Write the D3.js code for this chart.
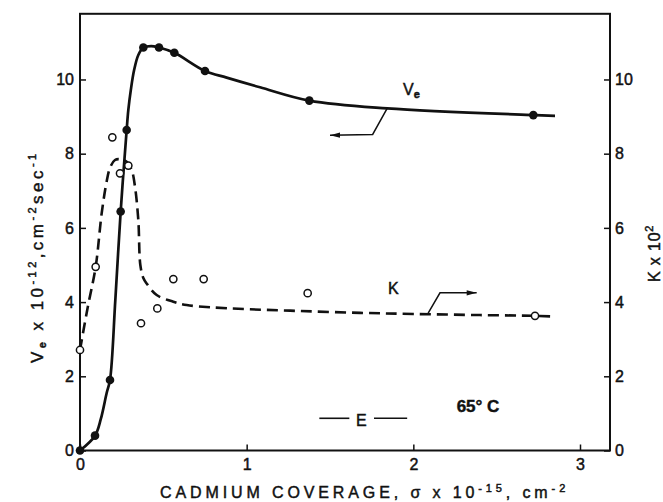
<!DOCTYPE html>
<html>
<head>
<meta charset="utf-8">
<script src="https://cdn.jsdelivr.net/npm/d3@7"></script>
<style>
  html, body { margin: 0; padding: 0; background: #fff; }
  svg { display: block; font-family: "Liberation Sans", Arial, Helvetica, sans-serif; }
  text { stroke: #111; stroke-width: 0.45px; }
</style>
</head>
<body>
<svg id="chart" width="663" height="502"></svg>
<script>
// Measured electron-emission rate V_e (x 10^-12 cm^-2 sec^-1) vs cadmium coverage (x 10^15 cm^-2)
const veCoverage = [0, 0.09, 0.18, 0.244, 0.28, 0.38, 0.474, 0.566, 0.75, 1.376, 2.72];
const veRate     = [0, 0.40, 1.90, 6.44, 8.64, 10.86, 10.86, 10.72, 10.23, 9.43, 9.04];

// Measured K (x 10^2) vs cadmium coverage
const kCoverage = [0, 0.094, 0.194, 0.24, 0.29, 0.366, 0.464, 0.56, 0.742, 1.366, 2.73];
const kValue    = [2.71, 4.95, 8.44, 7.47, 7.68, 3.43, 3.83, 4.62, 4.62, 4.24, 3.63];

// Smooth curve drawn through V_e
const veCurveX = [0, 0.09, 0.125, 0.16, 0.18, 0.212, 0.244, 0.28, 0.29, 0.305, 0.325, 0.35, 0.38, 0.427, 0.474, 0.566, 0.75, 0.88, 1.08, 1.376, 1.843, 2.72, 2.85];
const veCurveY = [0, 0.40, 0.85, 1.55, 1.90, 4.06, 6.44, 8.64, 9.18, 9.72, 10.26, 10.66, 10.86, 10.9, 10.86, 10.72, 10.23, 10.05, 9.79, 9.43, 9.22, 9.04, 9.02];

// Smooth (dashed) curve drawn through K
const kCurveX = [0, 0.045, 0.094, 0.13, 0.16, 0.18, 0.21, 0.24, 0.28, 0.31, 0.33, 0.35, 0.362, 0.38, 0.40, 0.46, 0.56, 0.64, 0.78, 1.0, 1.32, 1.68, 2.0, 2.4, 2.72, 2.84];
const kCurveY = [2.71, 3.83, 4.95, 6.39, 7.25, 7.62, 7.83, 7.85, 7.78, 7.56, 7.11, 6.2, 5.0, 4.65, 4.5, 4.19, 4.01, 3.92, 3.86, 3.81, 3.76, 3.71, 3.68, 3.65, 3.63, 3.61];

const xTicks = [0, 1, 2, 3];
const yTicks = [0, 2, 4, 6, 8, 10];
const kTicks = [0, 2, 4, 6, 8, 10];

const svg = d3.select("#chart");

const x = d3.scaleLinear().domain([0, 3.18]).range([80, 610]);
const y = d3.scaleLinear().domain([0, 11.77]).range([450.5, 13.8]);
const yK = d3.scaleLinear().domain([0, 11.77]).range([450.5, 13.8]);

const ink = "#111";

// plot frame
svg.append("rect")
  .attr("x", x(0)).attr("y", y(11.77))
  .attr("width", x(3.18) - x(0)).attr("height", y(0) - y(11.77))
  .attr("fill", "none").attr("stroke", ink).attr("stroke-width", 2);

function styleAxis(g) {
  g.select(".domain").remove();
  g.selectAll(".tick line").attr("stroke", ink).attr("stroke-width", 1.5);
  g.selectAll(".tick text")
    .attr("fill", ink)
    .style("font-size", "16px");
}

// bottom axis (ticks point inward)
svg.append("g")
  .attr("transform", `translate(0,${y(0)})`)
  .call(d3.axisBottom(x).tickValues(xTicks).tickSize(-6).tickFormat(d3.format("d")))
  .call(styleAxis)
  .call(g => g.selectAll(".tick text").attr("y", 19).attr("dy", null));

// left axis
svg.append("g")
  .attr("transform", `translate(${x(0)},0)`)
  .call(d3.axisLeft(y).tickValues(yTicks).tickSize(-6).tickPadding(6).tickFormat(d3.format("d")))
  .call(styleAxis)
  .call(g => g.selectAll(".tick text").attr("x", -6));

// right axis (K)
svg.append("g")
  .attr("transform", `translate(${x(3.18)},0)`)
  .call(d3.axisRight(yK).tickValues(kTicks).tickSize(-6).tickPadding(6).tickFormat(d3.format("d")))
  .call(styleAxis)
  .call(g => g.selectAll(".tick text").attr("x", 5));

// curves
const kLine = d3.line().x(d => x(d[0])).y(d => yK(d[1])).curve(d3.curveCatmullRom.alpha(0.5));
const veLine = d3.line().x(d => x(d[0])).y(d => y(d[1])).curve(d3.curveCatmullRom.alpha(0.5));

svg.append("path")
  .datum(d3.zip(kCurveX, kCurveY))
  .attr("d", kLine)
  .attr("fill", "none").attr("stroke", ink)
  .attr("stroke-width", 2.6).attr("stroke-dasharray", "11,6");

svg.append("path")
  .datum(d3.zip(veCurveX, veCurveY))
  .attr("d", veLine)
  .attr("fill", "none").attr("stroke", ink)
  .attr("stroke-width", 2.7);

// K points (open)
svg.append("g").selectAll("circle")
  .data(d3.zip(kCoverage, kValue))
  .join("circle")
  .attr("cx", d => x(d[0])).attr("cy", d => yK(d[1]))
  .attr("r", 3.6).attr("fill", "#fff").attr("stroke", ink).attr("stroke-width", 1.5);

// V_e points (filled)
svg.append("g").selectAll("circle")
  .data(d3.zip(veCoverage, veRate))
  .join("circle")
  .attr("cx", d => x(d[0])).attr("cy", d => y(d[1]))
  .attr("r", 4.3).attr("fill", ink);

// leader arrows pointing each curve to its axis
function arrowPath(pts, yScale) {
  return d3.line().x(d => x(d[0])).y(d => yScale(d[1]))(pts);
}
function arrowHead(tip, dir, yScale) {
  const tx = x(tip[0]), ty = yScale(tip[1]);
  const L = 10, W = 2.6;
  return `M${tx},${ty}L${tx - dir * L},${ty - W}L${tx - dir * L},${ty + W}Z`;
}
const veArrow = [[1.843, 9.22], [1.756, 8.52], [1.50, 8.50]];
const kArrow = [[2.089, 3.70], [2.16, 4.25], [2.38, 4.25]];

svg.append("path").attr("d", arrowPath(veArrow, y))
  .attr("fill", "none").attr("stroke", ink).attr("stroke-width", 1.5);
svg.append("path").attr("d", arrowHead(veArrow[2], -1, y)).attr("fill", ink);
svg.append("path").attr("d", arrowPath(kArrow, yK))
  .attr("fill", "none").attr("stroke", ink).attr("stroke-width", 1.5);
svg.append("path").attr("d", arrowHead(kArrow[2], 1, yK)).attr("fill", ink);

// curve labels
const veLabel = svg.append("text")
  .attr("x", x(1.938)).attr("y", y(9.58))
  .attr("fill", ink).style("font-size", "16px");
veLabel.append("tspan").text("V");
veLabel.append("tspan").attr("dy", 3).style("font-size", "11px").style("font-weight", "bold").text("e");

svg.append("text")
  .attr("x", x(1.848)).attr("y", yK(4.22))
  .attr("fill", ink).style("font-size", "16px").text("K");

svg.append("text")
  .attr("x", x(2.26)).attr("y", y(1.05))
  .attr("fill", ink).style("font-size", "17px").style("font-weight", "bold").text("65° C");

// energy marker
const eLevel = 0.868;
svg.append("line")
  .attr("x1", x(1.436)).attr("x2", x(1.616)).attr("y1", y(eLevel)).attr("y2", y(eLevel))
  .attr("stroke", ink).attr("stroke-width", 1.6);
svg.append("line")
  .attr("x1", x(1.764)).attr("x2", x(1.963)).attr("y1", y(eLevel)).attr("y2", y(eLevel))
  .attr("stroke", ink).attr("stroke-width", 1.6);
svg.append("text")
  .attr("x", x(1.656)).attr("y", y(0.66))
  .attr("fill", ink).style("font-size", "16px").text("E");

// axis titles
function fitWidth(sel, target) {
  const n = sel.text().length;
  const w = sel.node().getComputedTextLength();
  sel.attr("letter-spacing", (target - w) / n);
}

const xTitle = svg.append("text")
  .attr("x", 160).attr("y", 498)
  .attr("fill", ink).style("font-size", "16px");
xTitle.append("tspan").text("CADMIUM COVERAGE,  σ x 10");
xTitle.append("tspan").attr("dy", -6).style("font-size", "11px").text("-15");
xTitle.append("tspan").attr("dy", 6).text(", cm");
xTitle.append("tspan").attr("dy", -6).style("font-size", "11px").text("-2");
fitWidth(xTitle, 413);

const yTitle = svg.append("text")
  .attr("transform", "translate(43,363) rotate(-90)")
  .attr("fill", ink).style("font-size", "17px");
yTitle.append("tspan").text("V");
yTitle.append("tspan").attr("dy", 3).style("font-size", "11px").style("font-weight", "bold").text("e");
yTitle.append("tspan").attr("dy", -3).text("  x 10");
yTitle.append("tspan").attr("dy", -7).style("font-size", "11px").text("-12");
yTitle.append("tspan").attr("dy", 7).text(",cm");
yTitle.append("tspan").attr("dy", -7).style("font-size", "11px").text("-2");
yTitle.append("tspan").attr("dy", 7).text("sec");
yTitle.append("tspan").attr("dy", -7).style("font-size", "11px").text("-1");
fitWidth(yTitle, 216);

const kTitle = svg.append("text")
  .attr("transform", "translate(660,282) rotate(-90)")
  .attr("fill", ink).style("font-size", "16px");
kTitle.append("tspan").text("K  x  10");
kTitle.append("tspan").attr("dy", -7).style("font-size", "11px").text("2");
fitWidth(kTitle, 59);
</script>
</body>
</html>
